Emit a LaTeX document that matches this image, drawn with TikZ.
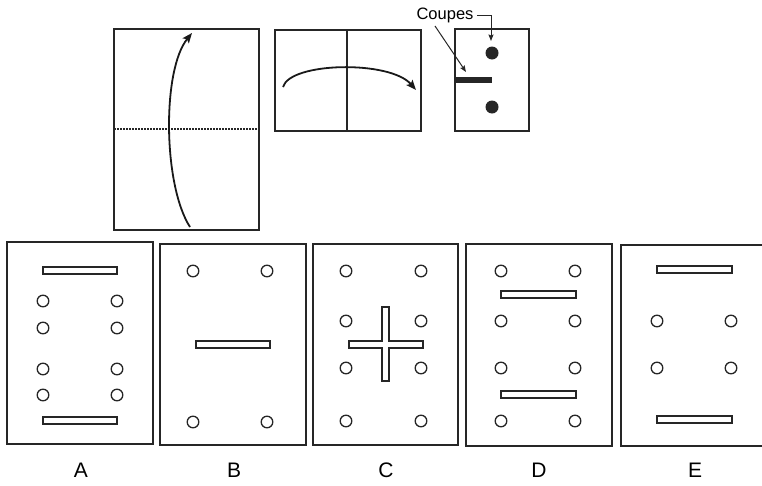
\documentclass[tikz,border=0pt]{standalone}
\usepackage{fontspec}
\setmainfont{Liberation Sans}
\usetikzlibrary{arrows.meta}

\begin{document}
\begin{tikzpicture}[x=1pt,y=-1pt,
  sheet/.style={draw=black!85,line width=1.8pt},
  hole/.style={draw=black!85,line width=1.3pt},
  slot/.style={draw=black!85,fill=white,line width=1.4pt},
  fold/.style={draw=black!90,line width=1.8pt,-{Stealth[length=10pt,width=8pt,inset=2pt]}},
  pointer/.style={draw=black!85,line width=1pt,-{Stealth[length=6.5pt,width=5pt,inset=1pt]}},
  choice/.style={font=\fontsize{21}{24}\selectfont}]
  \useasboundingbox (0,0) rectangle (762,485);
  \clip (0,0) rectangle (762,485);

  % folding steps
  \draw[sheet] (114,29) rectangle (259,230);
  \draw[black!85,line width=1.2pt,dash pattern=on 1.5pt off 1.5pt] (114,129) -- (259,129);
  \draw[fold] (190,227) .. controls (163,185) and (162,70) .. (192,33);
  \draw[sheet] (275,30) rectangle (421,131);
  \draw[black!85,line width=1.5pt] (347,30) -- (347,131);
  \draw[fold] (283,87) .. controls (290,62) and (390,60) .. (416,90);
  \draw[sheet] (455,29) rectangle (529,131);
  \fill[black!85] (492,53) circle (6.5) (492,107) circle (6.5);
  \fill[black!85] (455,77) rectangle (492,83);
  \node[font=\fontsize{16.5}{18}\selectfont] (coupes) at (445,15) {Coupes};
  \coordinate (punch) at (491,41);
  \coordinate (cut) at (466,72);
  \draw[pointer] (coupes.east) -| (punch);
  \draw[pointer] ([xshift=-10pt]coupes.south) -- (cut);

  % A
  \draw[sheet] (7,242) rectangle (153,444);
  \draw[slot] (43,267) rectangle (117,274);
  \draw[slot] (43,417) rectangle (117,424);
  \foreach \x in {43,117}
    \foreach \y in {301,328,369,395}
      \draw[hole] (\x,\y) circle (5.8);
  \node[choice] (a) at (81,470) {A};

  % B
  \draw[sheet] (160,244) rectangle (306,445);
  \draw[slot] (196,341) rectangle (270,348);
  \foreach \x in {193,267}
    \foreach \y in {271,422}
      \draw[hole] (\x,\y) circle (5.8);
  \node[choice] (b) at (234,470) {B};

  % C
  \draw[sheet] (313,244) rectangle (458,445);
  \draw[slot] (382,307) -- (389,307) -- (389,341) -- (423,341) -- (423,348) -- (389,348)
    -- (389,381) -- (382,381) -- (382,348) -- (349,348) -- (349,341) -- (382,341) -- cycle;
  \foreach \x in {346,421}
    \foreach \y in {271,321,368,421}
      \draw[hole] (\x,\y) circle (5.8);
  \node[choice] (c) at (386,470) {C};

  % D
  \draw[sheet] (466,244) rectangle (612,446);
  \draw[slot] (501,291) rectangle (576,298);
  \draw[slot] (501,391) rectangle (576,398);
  \foreach \x in {501,575}
    \foreach \y in {271,321,368,421}
      \draw[hole] (\x,\y) circle (5.8);
  \node[choice] (d) at (539,470) {D};

  % E
  \draw[sheet] (621,245) rectangle (767,446);
  \draw[slot] (657,266) rectangle (732,273);
  \draw[slot] (657,416) rectangle (732,423);
  \foreach \x in {657,731}
    \foreach \y in {321,368}
      \draw[hole] (\x,\y) circle (5.8);
  \node[choice] (e) at (695,470) {E};
\end{tikzpicture}
\end{document}
